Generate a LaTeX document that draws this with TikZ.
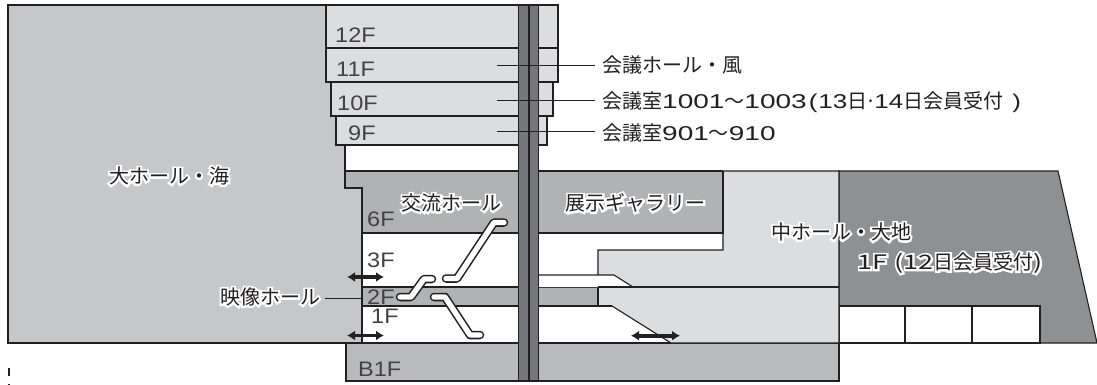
\documentclass[tikz,border=0pt]{standalone}
\usepackage{fontspec}
\usetikzlibrary{arrows.meta}
\setmainfont{Noto Sans CJK JP}
\newfontfamily\widef[FakeStretch=1.4]{Liberation Sans}
\newfontfamily\midf[FakeStretch=1.3]{Liberation Sans}
\newfontfamily\floorf[FakeStretch=1.12]{Liberation Sans}
\newfontfamily\halof[FakeBold=20]{Noto Sans CJK JP}
\newfontfamily\hdigit[FakeStretch=1.35]{Noto Sans CJK JP}
\newfontfamily\hdigithalo[FakeStretch=1.35,FakeBold=20]{Noto Sans CJK JP}
\newcommand\hd{\hdigit}
\newcommand\halotext[1]{\leavevmode\rlap{\color{white}\halof\let\hd\hdigithalo #1}#1}
\definecolor{ink}{HTML}{231F20}
\definecolor{hallgray}{HTML}{C6C7C9}
\definecolor{lightgray}{HTML}{DCDDDE}
\definecolor{midgray}{HTML}{B1B2B4}
\definecolor{basegray}{HTML}{B9BABC}
\definecolor{darkgray}{HTML}{8F9093}
\definecolor{coregray}{HTML}{76777B}
\tikzset{
  wall/.style={draw=ink,line width=1.1pt,line join=miter},
  floorlabel/.style={anchor=base west,inner sep=0pt,text=ink!85,font=\fontsize{21}{24}\selectfont\floorf},
  haloed/.style={inner sep=0pt,text=ink,font=\fontsize{20}{24}\selectfont},
  roomlabel/.style={anchor=west,inner ysep=0pt,inner xsep=7pt,text=ink,font=\fontsize{20}{24}\selectfont},
  leader/.style={draw=ink,line width=0.8pt},
  both/.style={draw=ink,line width=3.6pt,{Latex[length=8pt,width=10pt]}-{Latex[length=8pt,width=10pt]}},
}
\newcommand\escalator[1]{%
  \draw[draw=ink,line width=8.5pt,line cap=round,line join=round] #1;
  \draw[draw=white,line width=5.4pt,line cap=round,line join=round] #1;}
\begin{document}
\begin{tikzpicture}[x=1pt,y=-1pt]
\useasboundingbox (0,0) rectangle (1097,385);
% big hall
\fill[hallgray] (8,5) rectangle (362,343);
\draw[wall] (326,5) -- (8,5) -- (8,343) -- (346,343);
% white interior
\fill[white] (345,145) rectangle (518,170);
\fill[white] (362,233) rectangle (723,343);
% basement
\draw[wall,fill=basegray] (346,343) rectangle (839,381);
% dark 1F hall
\draw[wall,fill=darkgray] (839,171) -- (1058,171) -- (1097,343) -- (839,343) -- cycle;
% white rooms
\draw[wall,fill=white] (839,306) -- (1040,306) -- (1040,343) -- (839,343) -- cycle;
\draw[wall] (905,306) -- (905,343);
\draw[wall] (972,306) -- (972,343);
% middle hall
\draw[wall,fill=lightgray] (723,171) -- (839,171) -- (839,343) -- (671,343) -- (612,306) -- (598,306) -- (598,250) -- (723,250) -- cycle;
\draw[wall] (598,287) -- (839,287);
% 2F band
\fill[midgray] (362,287) rectangle (598,306);
\draw[wall] (362,287) -- (598,287);
\draw[wall] (362,306) -- (612,306);
\draw[wall] (598,287) -- (598,306);
% white slot
\fill[white] (539,275) -- (614,275) -- (633,287) -- (539,287) -- cycle;
\draw[wall] (539,275) -- (614,275) -- (633,287);
\draw[wall] (598,287) -- (633,287);
% 6F and gallery
\fill[midgray] (345,170) -- (723,170) -- (723,233) -- (362,233) -- (362,188) -- (345,188) -- cycle;
\draw[wall] (723,171) -- (345,171) -- (345,188) -- (362,188) -- (362,343);
\draw[wall] (362,233) -- (518,233);
\draw[wall] (539,233) -- (723,233) -- (723,171);
\draw[wall] (345,145) -- (345,171);
% upper floors
\draw[wall,fill=lightgray] (326,5) rectangle (558,48);
\draw[wall,fill=lightgray] (326,48) rectangle (558,82);
\draw[wall,fill=lightgray] (331,82) rectangle (553,116);
\draw[wall,fill=lightgray] (336,116) rectangle (547,145);
% core
\draw[wall,fill=coregray] (518.5,5) rectangle (528.5,381);
\draw[wall,fill=coregray] (529.5,5) rectangle (538.5,381);
% escalators
\escalator{(446,278.5) -- (457,278.5) -- (494,222.5) -- (504,222.5)}
\escalator{(400,297) -- (411,297) -- (424,279) -- (432,279)}
\escalator{(434,297) -- (445,297) -- (470,335) -- (480,335)}
% passage arrows
\coordinate (a1l) at (347,277); \coordinate (a1r) at (384,277);
\coordinate (a2l) at (347,335.5); \coordinate (a2r) at (384,335.5);
\coordinate (a3l) at (631,335.7); \coordinate (a3r) at (680,335.7);
\draw[both] (a1l) -- (a1r);
\draw[both] (a2l) -- (a2r);
\draw[both] (a3l) -- (a3r);
% floor labels
\node[floorlabel] (f12) at (335,43) {12F};
\node[floorlabel] (f11) at (336,77) {11F};
\node[floorlabel] (f10) at (337,111) {10F};
\node[floorlabel] (f9) at (348,140) {9F};
\node[floorlabel] (f6) at (367,226) {6F};
\node[floorlabel] (f3) at (367,267) {3F};
\node[floorlabel] (f2) at (367,304) {2F};
\node[floorlabel] (f1) at (371,323) {1F};
\node[floorlabel] (fb1) at (358,376) {B1F};
% leaders and labels
\coordinate (c11) at (497,65.5);
\coordinate (c10) at (497,100);
\coordinate (c9) at (497,131.5);
\node[roomlabel] (kaze) at (595,65) {会議ホール・風};
\node[roomlabel] (r10) at (595,102) {会議室{\widef 1001}～{\widef 1003}\hspace{2pt}{\midf (}\hspace{1pt}{\midf 13}日\makebox[7pt]{·}{\midf 14}日会員受付\hspace{9pt}{\midf )}};
\node[roomlabel] (r9) at (595,133) {会議室{\widef 901}～{\widef 910}};
\draw[leader] (c11) -- (c11 -| kaze.west);
\draw[leader] (c10) -- (c10 -| r10.west);
\draw[leader] (c9) -- (c9 -| r9.west);
\node[haloed] (umi) at (169,176) {\halotext{大ホール・海}};
\node[haloed] (koryu) at (451.5,203) {\halotext{交流ホール}};
\node[haloed] (gallery) at (635.5,203) {\halotext{展示ギャラリー}};
\node[haloed] (daichi) at (841,232) {\halotext{中ホール・大地}};
\node[haloed] (f1hall) at (950,263) {\halotext{{\hd 1F}\hspace{7pt}{\hd (12}日会員受付{\hd )}}};
\node[haloed,inner xsep=0pt] (eizo) at (270,297) {\halotext{映像ホール}};
\coordinate (c2) at (362,298);
\draw[leader] (c2) -- ([xshift=5pt]c2 -| eizo.east);
% crop marks
\fill[ink] (7.5,368) rectangle (10,376);
\fill[ink] (8,383.5) rectangle (10,384.5);
\end{tikzpicture}
\end{document}
